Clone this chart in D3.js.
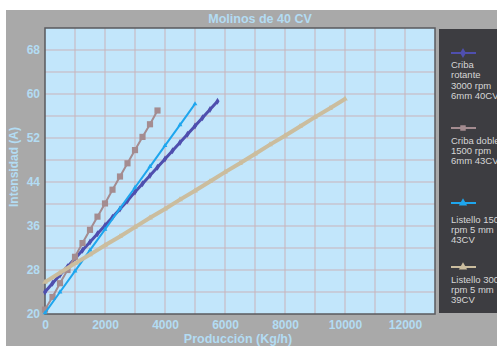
<!DOCTYPE html>
<html>
<head>
<meta charset="utf-8">
<script src="https://cdn.jsdelivr.net/npm/d3@7"></script>
<style>
  html, body { margin: 0; padding: 0; background: #fff; overflow: hidden; }
  svg { display: block; }
  text { font-family: "Liberation Sans", Arial, sans-serif; }
</style>
</head>
<body>
<svg id="chart" width="497" height="346"></svg>
<script>
// Mill current draw (A) versus throughput (kg/h) for four 40 CV mill setups
const xTicks = [0, 2000, 4000, 6000, 8000, 10000, 12000];
const yTicks = [20, 28, 36, 44, 52, 60, 68];

const seriesNames = ["Criba rotante", "Criba doble", "Listello 1500", "Listello 3000"];
const legendLines = [
  ["Criba", "rotante", "3000 rpm", "6mm 40CV"],
  ["Criba doble", "1500 rpm", "6mm 43CV"],
  ["Listello 1500", "rpm 5 mm", "43CV"],
  ["Listello 3000", "rpm 5 mm", "39CV"]
];

// Criba rotante 3000 rpm 6mm 40CV
const rotanteX = [0, 250, 500, 750, 1000, 1250, 1500, 1750, 2000, 2250, 2500, 2750, 3000, 3250, 3500, 3750, 4000, 4250, 4500, 4750, 5000, 5250, 5500, 5750];
const rotanteY = [24.0, 25.6, 27.1, 28.6, 30.1, 31.6, 33.1, 34.6, 36.1, 37.6, 39.1, 40.6, 42.2, 43.7, 45.2, 46.7, 48.2, 49.7, 51.2, 52.7, 54.2, 55.7, 57.2, 58.7];

// Criba doble 1500 rpm 6mm 43CV
const dobleX = [0, 250, 500, 750, 1000, 1250, 1500, 1750, 2000, 2250, 2500, 2750, 3000, 3250, 3500, 3750];
const dobleY = [20.8, 23.1, 25.6, 28.0, 30.4, 32.9, 35.3, 37.7, 40.1, 42.6, 45.0, 47.4, 49.8, 52.2, 54.5, 57.0];

// Listello 1500 rpm 5 mm 43CV
const l1500X = [0, 500, 1000, 1500, 2000, 2500, 3000, 3500, 4000, 4500, 5000];
const l1500Y = [20.2, 24.0, 27.8, 31.6, 35.4, 39.2, 43.0, 46.8, 50.6, 54.4, 58.2];

// Listello 3000 rpm 5 mm 39CV
const l3000X = [0, 500, 1000, 1500, 2000, 2500, 3000, 3500, 4000, 4500, 5000, 5500, 6000, 6500, 7000, 7500, 8000, 8500, 9000, 9500, 10000];
const l3000Y = [25.8, 27.5, 29.2, 30.8, 32.5, 34.1, 35.8, 37.5, 39.1, 40.8, 42.4, 44.1, 45.8, 47.4, 49.1, 50.8, 52.4, 54.1, 55.8, 57.4, 59.1];

const colors = ["#4f4fae", "#a48c90", "#1ea6ee", "#cbbd9e"];
const widths = [3, 2, 2, 4];
const symbols = [d3.symbolDiamond, d3.symbolSquare, d3.symbolTriangle, d3.symbolTriangle];
const symSizes = [14, 38, 10, 14];

const series = [
  { xs: rotanteX, ys: rotanteY },
  { xs: dobleX, ys: dobleY },
  { xs: l1500X, ys: l1500Y },
  { xs: l3000X, ys: l3000Y }
].map((s, i) => ({
  name: seriesNames[i],
  points: s.xs.map((x, j) => ({ x, y: s.ys[j] }))
}));

const svg = d3.select("#chart");

// scanned page backdrop
svg.append("rect").attr("x", 6).attr("y", 10).attr("width", 491).attr("height", 336).attr("fill", "#a9a9a9");

const x = d3.scaleLinear().domain([0, 13000]).range([45, 435]);
const y = d3.scaleLinear().domain([20, 72]).range([314, 28]);

// plot area
svg.append("rect")
  .attr("x", x(0)).attr("y", y(72))
  .attr("width", x(13000) - x(0)).attr("height", y(20) - y(72))
  .attr("fill", "#c2e6fb");

// grid
const grid = svg.append("g").attr("stroke", "#c9b3ba").attr("stroke-width", 1);
grid.selectAll("line.v").data(d3.range(1000, 13000, 1000)).join("line")
  .attr("x1", d => x(d)).attr("x2", d => x(d))
  .attr("y1", y(72)).attr("y2", y(20));
grid.selectAll("line.h").data(d3.range(24, 72, 4)).join("line")
  .attr("x1", x(0)).attr("x2", x(13000))
  .attr("y1", d => y(d)).attr("y2", d => y(d));

// frame
svg.append("rect")
  .attr("x", x(0)).attr("y", y(72))
  .attr("width", x(13000) - x(0)).attr("height", y(20) - y(72))
  .attr("fill", "none").attr("stroke", "#5a5a5e").attr("stroke-width", 1.5);

// series
const line = d3.line().x(d => x(d.x)).y(d => y(d.y));
series.forEach((s, i) => {
  const g = svg.append("g");
  g.append("path").datum(s.points)
    .attr("d", line).attr("fill", "none")
    .attr("stroke", colors[i]).attr("stroke-width", widths[i]);
  g.selectAll("path.m").data(s.points).join("path")
    .attr("transform", d => `translate(${x(d.x)},${y(d.y)})`)
    .attr("d", d3.symbol().type(symbols[i]).size(symSizes[i]))
    .attr("fill", colors[i]);
});

// axes
const tickColor = "#b3dcf3";
const xAxis = svg.append("g").attr("transform", `translate(0,${y(20)})`)
  .call(d3.axisBottom(x).tickValues(xTicks).tickSize(0).tickPadding(6).tickFormat(d3.format("d")));
const yAxis = svg.append("g").attr("transform", `translate(${x(0)},0)`)
  .call(d3.axisLeft(y).tickValues(yTicks).tickSize(0).tickPadding(5));
[xAxis, yAxis].forEach(a => {
  a.select(".domain").remove();
  a.selectAll("text").attr("fill", tickColor).attr("font-size", 12).attr("font-weight", "bold")
    .attr("font-family", "'Liberation Sans', Arial, sans-serif");
});

// titles
svg.append("text").attr("x", 260).attr("y", 23).attr("text-anchor", "middle")
  .attr("fill", tickColor).attr("font-size", 12.5).attr("font-weight", "bold")
  .text("Molinos de 40 CV");
svg.append("text").attr("x", 238).attr("y", 343).attr("text-anchor", "middle")
  .attr("fill", tickColor).attr("font-size", 12.5).attr("font-weight", "bold")
  .text("Producción (Kg/h)");
svg.append("text").attr("transform", "translate(18,167) rotate(-90)").attr("text-anchor", "middle")
  .attr("fill", tickColor).attr("font-size", 12).attr("font-weight", "bold")
  .text("Intensidad (A)");

// legend
svg.append("rect").attr("x", 439).attr("y", 29).attr("width", 70).attr("height", 284).attr("fill", "#3d3d41");
const markerY = [53, 128, 203, 267];
const textY = [68, 143.5, 222.5, 282.5];
legendLines.forEach((lines, i) => {
  const g = svg.append("g");
  g.append("line").attr("x1", 451).attr("x2", 476).attr("y1", markerY[i]).attr("y2", markerY[i])
    .attr("stroke", colors[i]).attr("stroke-width", 2);
  g.append("path").attr("transform", `translate(463,${markerY[i]})`)
    .attr("d", d3.symbol().type(symbols[i]).size(30)).attr("fill", colors[i]);
  lines.forEach((t, k) => {
    g.append("text").attr("x", 451).attr("y", textY[i] + k * 10.4)
      .attr("fill", "#d6d6d6").attr("font-size", 9.5).text(t);
  });
});
</script>
</body>
</html>
